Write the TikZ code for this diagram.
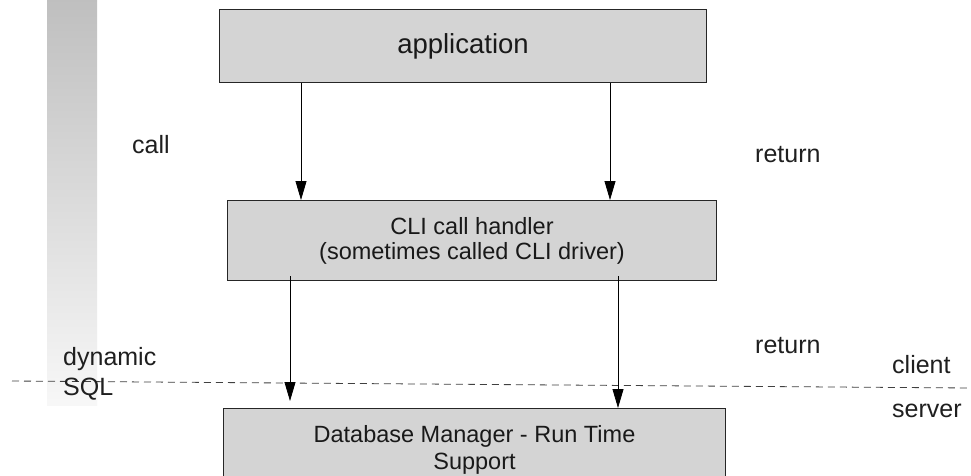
\documentclass[tikz,border=0pt]{standalone}
\usepackage{fontspec}
\setmainfont{Liberation Sans}
\usetikzlibrary{arrows.meta}
\tikzset{
  box/.style={draw=black!85, line width=1pt, fill=black!17, inner sep=0pt, align=center, text=black!90},
  lbl/.style={anchor=base west, inner sep=0pt, text=black!88, font=\fontsize{25pt}{30pt}\selectfont},
  arr/.style={draw=black, line width=0.8pt, -{Triangle[length=19pt,width=11pt]}},
  sep/.style={draw=black!75, line width=0.8pt, dash pattern=on 7pt off 5pt}
}
\begin{document}
\begin{tikzpicture}[x=1pt,y=-1pt]
\useasboundingbox (0,0) rectangle (971,475);
\fill[white] (0,0) rectangle (971,475);
% gradient bar
\shade[top color=black!25, bottom color=black!3] (47,0) rectangle (97,405);
% boxes
\node[box, anchor=north west, minimum width=487pt, minimum height=73pt,
      font=\fontsize{27.5pt}{30pt}\selectfont] (app) at (219,9) {application};
\node[box, anchor=north west, minimum width=489pt, minimum height=80pt,
      font=\fontsize{23.5pt}{25pt}\selectfont] (cli) at (227,200)
      {CLI call handler\\(sometimes called CLI driver)};
\node[box, anchor=north west, minimum width=502pt, minimum height=82pt,
      font=\fontsize{23.5pt}{27pt}\selectfont] (db) at (223,408)
      {Database Manager - Run Time\\Support};
% separator
\coordinate (sepL) at (12,381);
\coordinate (sepR) at (971,388);
\draw[sep] (sepL) -- (sepR);
% arrows
\draw[arr] (app.south -| 301,0) -- (cli.north -| 301,0);
\draw[arr] (app.south -| 610,0) -- (cli.north -| 610,0);
\draw[arr] ([yshift=5pt]cli.south -| 290,0) -- ([yshift=7pt]db.north -| 290,0);
\draw[arr] ([yshift=5pt]cli.south -| 618,0) -- (db.north -| 618,0);
% labels
\node[lbl] (call) at (132,153) {call};
\node[lbl] (ret1) at (755,162) {return};
\node[lbl] (ret2) at (755,353) {return};
\node[lbl] (client) at (892,373) {client};
\node[lbl] (server) at (892,417) {server};
\node[lbl, align=left, anchor=base west] (dyn) at (63,365) {dynamic};
\node[lbl] (sql) at (63,395) {SQL};
\end{tikzpicture}
\end{document}
